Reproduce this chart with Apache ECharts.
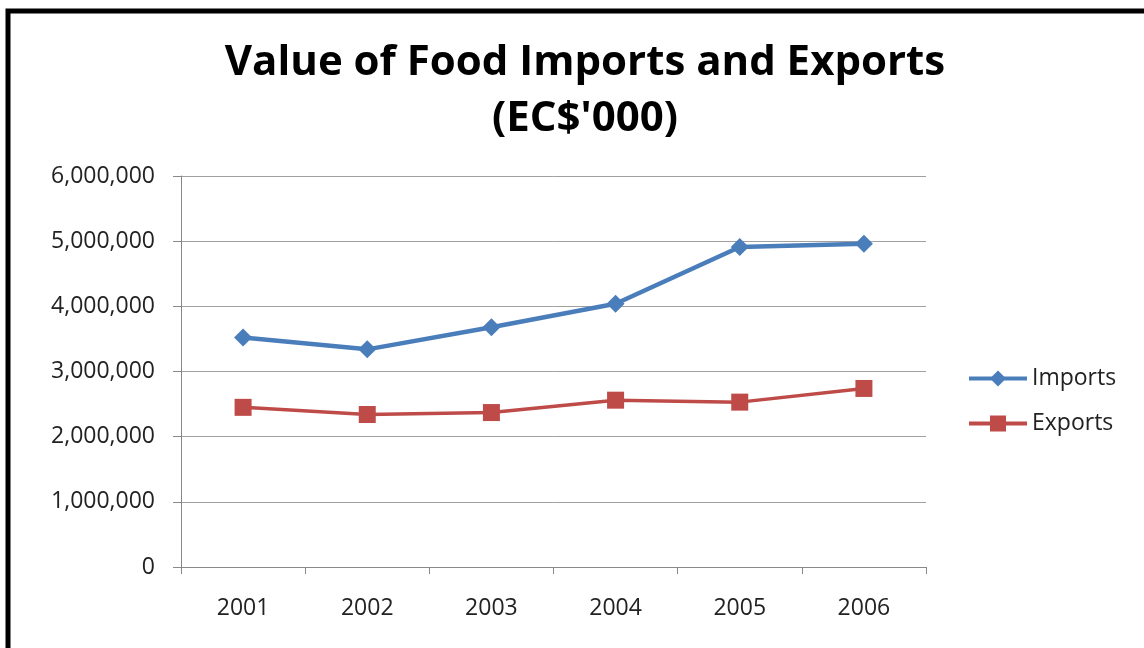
<!DOCTYPE html>
<html><head><meta charset="utf-8">
<script src="https://cdn.jsdelivr.net/npm/echarts@6/dist/echarts.min.js"></script>
<style>html,body{margin:0;padding:0;background:#fff}#c{width:1144px;height:648px}</style>
</head><body><div id="c"></div>
<script>
const years = ['2001','2002','2003','2004','2005','2006'];
const imports = [3520000, 3340000, 3680000, 4040000, 4910000, 4960000];
const exports_ = [2450000, 2340000, 2370000, 2560000, 2530000, 2740000];
const titleLines = ['Value of Food Imports and Exports', "(EC$'000)"];

const chart = echarts.init(document.getElementById('c'));
const font = 'Open Sans';
chart.setOption({
  animation: false,
  title: {
    text: titleLines.join('\n'),
    left: 580, top: 30, textAlign: 'center',
    textStyle: {fontFamily: font, fontWeight: 'bold', fontSize: 42, color: '#000', lineHeight: 56}
  },
  graphic: [{
    type: 'polyline', shape: {points: [[8, 700], [8, 11], [1200, 11]]},
    style: {stroke: '#000', lineWidth: 5, fill: null}
  }],
  legend: {
    orient: 'vertical', left: 962, top: 362, itemGap: 22, itemWidth: 58, itemHeight: 20,
    textStyle: {fontFamily: font, fontSize: 23, color: '#222'},
    data: [
      {name: 'Imports', lineStyle: {width: 4}},
      {name: 'Exports', lineStyle: {width: 4}}
    ]
  },
  grid: {left: 181, right: 218, top: 176, bottom: 81},
  xAxis: {
    type: 'category', data: years, boundaryGap: true,
    axisLine: {lineStyle: {color: '#888', width: 1}},
    axisTick: {show: true, inside: false, length: 7, lineStyle: {color: '#888'}},
    axisLabel: {fontFamily: font, fontSize: 23, color: '#222', margin: 30}
  },
  yAxis: {
    type: 'value', min: 0, max: 6000000, interval: 1000000,
    axisLine: {show: true, lineStyle: {color: '#888'}},
    axisTick: {show: true, length: 8, lineStyle: {color: '#888'}},
    splitLine: {lineStyle: {color: '#a0a0a0', width: 1}},
    axisLabel: {fontFamily: font, fontSize: 23, color: '#222', margin: 26,
      formatter: v => v.toLocaleString('en-US')}
  },
  series: [
    {name: 'Imports', type: 'line', data: imports, symbol: 'diamond', symbolSize: 18,
     lineStyle: {color: '#4a7ebb', width: 4.5}, itemStyle: {color: '#4a7ebb'}},
    {name: 'Exports', type: 'line', data: exports_, symbol: 'rect', symbolSize: 17,
     lineStyle: {color: '#be4b48', width: 3.5}, itemStyle: {color: '#be4b48'}}
  ]
});
</script></body></html>
